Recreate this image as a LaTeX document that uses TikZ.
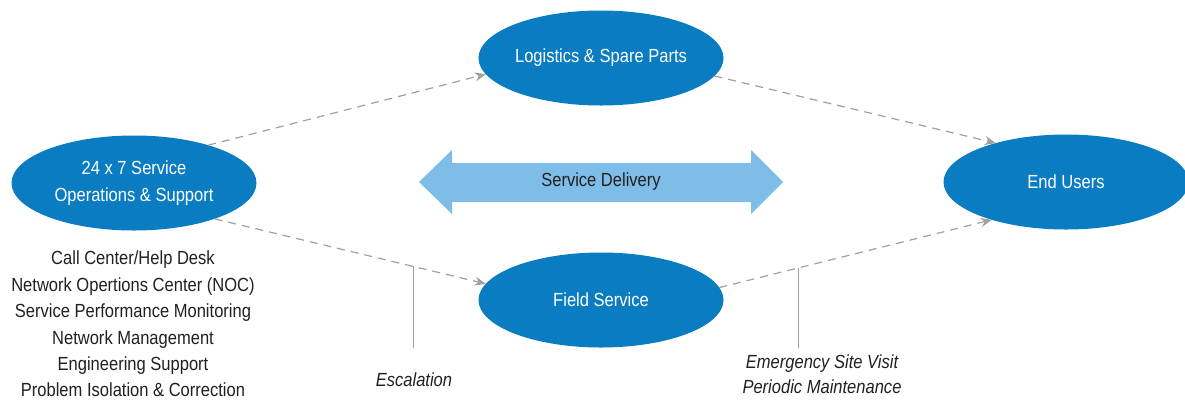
\documentclass[tikz,border=0pt]{standalone}
\usepackage{fontspec}
\setmainfont{Liberation Sans}[FakeStretch=0.87]
\usetikzlibrary{shapes.geometric,arrows.meta}
\definecolor{nodeblue}{HTML}{0A7CC2}
\definecolor{lightblue}{HTML}{7DBDE8}
\definecolor{txt}{HTML}{231F20}
\definecolor{lgray}{HTML}{A0A0A0}
\tikzset{
  bubble/.style={ellipse, fill=nodeblue, text=white, minimum width=245pt, minimum height=95pt, inner sep=0pt, outer sep=0pt, align=center, font=\fontsize{19}{26.5}\selectfont},
  flow/.style={draw=lgray, line width=1.2pt, dash pattern=on 8pt off 6pt, -{Stealth[length=11pt,width=9pt,fill=lgray]}},
  tick/.style={draw=lgray, line width=1.2pt},
  plain/.style={text=txt, align=center, inner sep=0pt, font=\fontsize{19}{26.4}\selectfont},
  note/.style={text=txt, align=center, inner sep=0pt, font=\fontsize{19}{25}\selectfont\itshape},
}
\begin{document}
\begin{tikzpicture}[x=1pt,y=-1pt]
\useasboundingbox (0,0) rectangle (1185,400);
% double arrow
\fill[lightblue] (419,182) -- (452,150) -- (452,163) -- (751,163) -- (751,150) -- (783,182) -- (751,214) -- (751,202) -- (452,202) -- (452,214) -- cycle;
\node[plain] (sd) at (601,182) {Service Delivery};
% nodes
\node[bubble] (ops) at (134,183) {24 x 7 Service\\Operations \& Support};
\node[bubble] (log) at (601,58) {Logistics \& Spare Parts};
\node[bubble] (fld) at (601,300) {Field Service};
\node[bubble] (usr) at (1066,182) {End Users};
% connectors
\draw[flow] (ops.27.8) -- (log.188.5);
\draw[flow] (log.351.7) -- (usr.151.9);
\draw[flow] (ops.336.7) -- coordinate[pos=0.732] (esc) (fld.172.6);
\draw[flow] (fld.6.9) -- coordinate[pos=0.29] (emg) (usr.207.5);
% callouts
\coordinate (escend) at (esc |- 0,348);
\coordinate (emgend) at (emg |- 0,348);
\draw[tick] (esc) -- (escend);
\draw[tick] (emg) -- (emgend);
\node[note] (esclab) at (414,380) {Escalation};
\node[note] (emglab) at (822,374) {Emergency Site Visit\\Periodic Maintenance};
% list
\node[plain] (list) at (133,324) {Call Center/Help Desk\\Network Opertions Center (NOC)\\Service Performance Monitoring\\Network Management\\Engineering Support\\Problem Isolation \& Correction};
\end{tikzpicture}
\end{document}
